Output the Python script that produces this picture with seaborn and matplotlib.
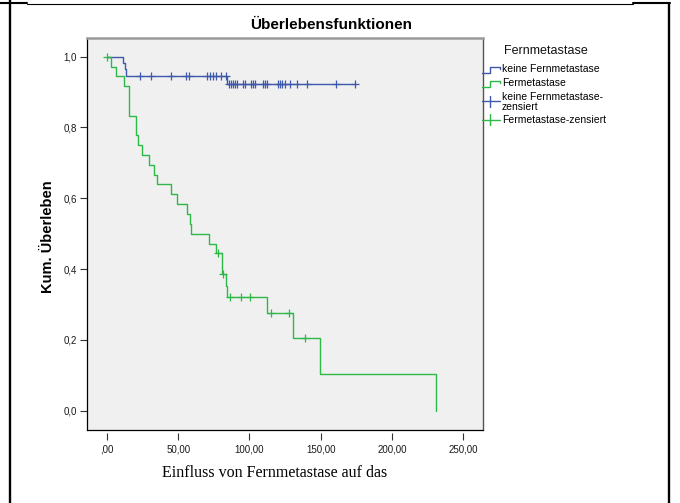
import numpy as np
import pandas as pd
import matplotlib
matplotlib.use("Agg")
import matplotlib.pyplot as plt
from matplotlib.lines import Line2D
import seaborn as sns

# Kaplan-Meier curve "keine Fernmetastase": event times and survival after each step
time_keine = [0.0, 11.0, 12.6, 13.8, 84.5, 175.0]
surv_keine = [1.0, 0.982, 0.964, 0.945, 0.923, 0.923]
censor_keine = [23.1, 31.2, 44.8, 55.8, 57.7, 70.3, 72.2, 74.6, 76.5, 80.0, 83.3,
                86.0, 87.2, 88.7, 90.1, 91.5, 95.7, 96.9, 101.1, 102.7, 104.1,
                109.3, 110.9, 112.1, 120.3, 121.5, 122.9, 125.0, 128.5, 133.6,
                140.7, 160.8, 174.2]

# Kaplan-Meier curve "Fermetastase"
time_fern = [0.0, 2.8, 6.3, 11.9, 15.7, 20.4, 22.0, 24.4, 29.7, 33.0, 35.3, 44.7,
             49.4, 56.4, 58.3, 58.8, 71.8, 76.5, 81.0, 83.6, 84.5, 112.6, 130.6,
             149.3, 230.5]
surv_fern = [1.0, 0.972, 0.944, 0.917, 0.833, 0.778, 0.750, 0.722, 0.694, 0.667,
             0.639, 0.611, 0.583, 0.556, 0.528, 0.500, 0.472, 0.444, 0.385, 0.353,
             0.321, 0.275, 0.206, 0.103, 0.0]
censor_fern = [0.2, 77.7, 81.6, 86.7, 94.3, 100.2, 115.4, 127.5, 139.0]

x_ticks = [0, 50, 100, 150, 200, 250]
x_ticklabels = [",00", "50,00", "100,00", "150,00", "200,00", "250,00"]
y_ticks = [0.0, 0.2, 0.4, 0.6, 0.8, 1.0]
y_ticklabels = ["0,0", "0,2", "0,4", "0,6", "0,8", "1,0"]

legend_title = "Fernmetastase"
legend_labels = ["keine Fernmetastase", "Fermetastase",
                 "keine Fernmetastase-\nzensiert", "Fermetastase-zensiert"]

BLUE = "#3E58AC"
GREEN = "#2EB848"

sns.set_theme(style="white")
plt.rcParams["font.family"] = ["Liberation Sans", "DejaVu Sans"]

W, H = 680, 503
fig = plt.figure(figsize=(W / 100, H / 100), dpi=100)
fig.patch.set_facecolor("white")


def fx(px):
    return px / W


def fy(py):
    return 1 - py / H


ax_l, ax_r, ax_t, ax_b = 86.7, 483.5, 37.5, 430.0
ax = fig.add_axes([fx(ax_l), fy(ax_b), fx(ax_r - ax_l), (ax_b - ax_t) / H])
ax.set_facecolor("#f0f0f0")


def censor_levels(times, levels, cens):
    idx = np.searchsorted(np.asarray(times), np.asarray(cens), side="right") - 1
    return np.asarray(levels)[idx]


df_keine = pd.DataFrame({"Zeit": time_keine, "Ueberleben": surv_keine})
df_fern = pd.DataFrame({"Zeit": time_fern, "Ueberleben": surv_fern})
cen_keine = pd.DataFrame({"Zeit": censor_keine,
                          "Ueberleben": censor_levels(time_keine, surv_keine, censor_keine)})
cen_fern = pd.DataFrame({"Zeit": censor_fern,
                         "Ueberleben": censor_levels(time_fern, surv_fern, censor_fern)})

sns.lineplot(data=df_keine, x="Zeit", y="Ueberleben", estimator=None, sort=False,
             drawstyle="steps-post", color=BLUE, linewidth=1.0, ax=ax)
sns.lineplot(data=df_fern, x="Zeit", y="Ueberleben", estimator=None, sort=False,
             drawstyle="steps-post", color=GREEN, linewidth=1.0, ax=ax)
sns.scatterplot(data=cen_keine, x="Zeit", y="Ueberleben", marker="+", s=40,
                color=BLUE, linewidth=0.9, ax=ax, zorder=3)
sns.scatterplot(data=cen_fern, x="Zeit", y="Ueberleben", marker="+", s=40,
                color=GREEN, linewidth=0.9, ax=ax, zorder=3)

ax.set_xlim(-14.1, 264.1)
ax.set_ylim(-0.0545, 1.054)
ax.set_xticks(x_ticks)
ax.set_xticklabels(x_ticklabels)
ax.set_yticks(y_ticks)
ax.set_yticklabels(y_ticklabels)
ax.set_xlabel("")
ax.set_ylabel("")
ax.grid(False)

ax.tick_params(axis="x", direction="out", length=5.0, width=0.8, color="#333333",
               pad=3.0, labelsize=7, labelcolor="#1a1a1a", bottom=True)
ax.tick_params(axis="y", direction="out", length=4.7, width=0.8, color="#333333",
               pad=2.2, labelsize=7, labelcolor="#1a1a1a", left=True)

# box around the plotting area; x ticks hang slightly below it
for side in ["top", "right", "left", "bottom"]:
    ax.spines[side].set_visible(True)
ax.spines["left"].set_color("black")
ax.spines["left"].set_linewidth(0.9)
ax.spines["top"].set_color("#9a9a9a")
ax.spines["top"].set_linewidth(1.8)
ax.spines["right"].set_color("#555555")
ax.spines["right"].set_linewidth(1.0)
ax.spines["bottom"].set_position(("outward", 2.2))
ax.spines["bottom"].set_visible(False)
ax.plot([0, 1], [0, 0], transform=ax.transAxes, color="black", lw=0.9,
        clip_on=False, zorder=5)

# titles
fig.text(fx(331), fy(25), "Überlebensfunktionen", ha="center", va="center",
         fontsize=11, fontweight="bold", color="black")
fig.text(fx(48), fy(237), "Kum. Überleben", ha="center", va="center",
         rotation=90, fontsize=10.5, fontweight="bold", color="black")
fig.text(fx(162), fy(473), "Einfluss von Fernmetastase auf das", ha="left",
         va="center", fontsize=11.5, family=["Liberation Serif", "DejaVu Serif"],
         color="black")

# legend
fig.text(fx(546), fy(50.5), legend_title, ha="center", va="center",
         fontsize=9, color="#111111")


def step_handle(y, color):
    xs = [482, 490, 490, 500, 500]
    ys = [y + 3, y + 3, y - 3, y - 3, y - 0.5]
    fig.add_artist(Line2D([fx(v) for v in xs], [fy(v) for v in ys],
                          color=color, lw=1.0, transform=fig.transFigure))


def cross_handle(y, color):
    fig.add_artist(Line2D([fx(482), fx(500)], [fy(y), fy(y)], color=color,
                          lw=1.0, transform=fig.transFigure))
    fig.add_artist(Line2D([fx(490), fx(490)], [fy(y - 5.5), fy(y + 5.5)],
                          color=color, lw=1.0, transform=fig.transFigure))


step_handle(69.5, BLUE)
step_handle(83.5, GREEN)
cross_handle(101.0, BLUE)
cross_handle(119.5, GREEN)
label_y = [69.3, 83.3, 101.7, 119.8]
for lab, yy in zip(legend_labels, label_y):
    fig.text(fx(502), fy(yy), lab, ha="left", va="center", fontsize=7.5,
             color="black", linespacing=0.95)

# surrounding table cell borders
fig.add_artist(Line2D([fx(10), fx(10)], [0, 1], color="black", lw=1.7,
                      transform=fig.transFigure))
fig.add_artist(Line2D([fx(669), fx(669)], [0, fy(2.5)], color="black", lw=1.7,
                      transform=fig.transFigure))
fig.add_artist(Line2D([0, fx(27)], [fy(3), fy(3)], color="black", lw=1.5,
                      transform=fig.transFigure))
fig.add_artist(Line2D([fx(27), fx(633)], [fy(3.5), fy(3.5)], color="black",
                      lw=0.8, transform=fig.transFigure))
fig.add_artist(Line2D([fx(633), fx(670)], [fy(3), fy(3)], color="black", lw=1.5,
                      transform=fig.transFigure))

fig.savefig("out.png", dpi=100, facecolor="white")
